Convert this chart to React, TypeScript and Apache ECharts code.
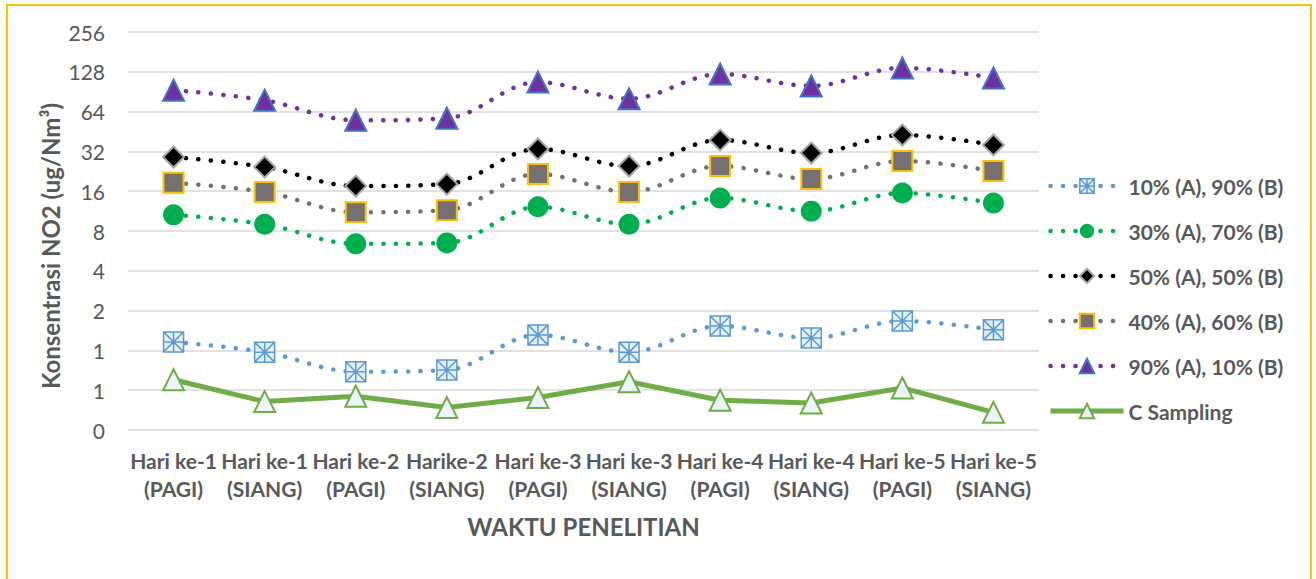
import React, { useEffect, useRef } from "react";
import * as echarts from "echarts";

const categories = [
  "Hari ke-1\n(PAGI)",
  "Hari ke-1\n(SIANG)",
  "Hari ke-2\n(PAGI)",
  "Harike-2\n(SIANG)",
  "Hari ke-3\n(PAGI)",
  "Hari ke-3\n(SIANG)",
  "Hari ke-4\n(PAGI)",
  "Hari ke-4\n(SIANG)",
  "Hari ke-5\n(PAGI)",
  "Hari ke-5\n(SIANG)",
];

const s10 = [1.16, 0.97, 0.69, 0.71, 1.31, 0.97, 1.53, 1.24, 1.67, 1.43];
const s30 = [10.6, 9.0, 6.4, 6.5, 12.2, 9.0, 14.2, 11.3, 15.5, 13.0];
const s50 = [29.0, 24.4, 17.5, 18.1, 33.4, 24.8, 39.0, 31.1, 42.6, 35.8];
const s40 = [18.5, 15.8, 11.1, 11.5, 21.6, 15.8, 24.8, 19.8, 27.1, 22.7];
const s90 = [93, 78, 55, 57, 107, 80, 123, 100, 137, 115];
const sC = [0.6, 0.41, 0.45, 0.37, 0.44, 0.58, 0.42, 0.4, 0.52, 0.34];

const yMin = 0.25;
const yMax = 256;

const FONT = "Lato, 'Noto Sans', sans-serif";
const TXT = "#595959";

export default function App() {
  const ref = useRef<HTMLDivElement>(null);
  useEffect(() => {
    document.body.style.margin = "0";
    const chart = echarts.init(ref.current!, null, { renderer: "svg" });
    const dotted = (color: string) => ({
      color,
      width: 4.5,
      type: [0.1, 12.4],
      cap: "round",
    });
    const smooth = 0.35;
    const option: any = {
      animation: false,
      backgroundColor: "#ffffff",
      textStyle: { fontFamily: FONT },
      grid: { left: 128, right: 277, top: 32, bottom: 149, containLabel: false },
      legend: {
        orient: "vertical",
        left: 1043,
        top: 170,
        itemWidth: 73,
        itemHeight: 18,
        itemGap: 23,
        lineStyle: { width: "inherit", type: "inherit", cap: "inherit" },
        itemStyle: { borderWidth: "inherit" },
        textStyle: {
          fontFamily: FONT,
          fontSize: 21,
          fontWeight: "bold",
          color: TXT,
          lineHeight: 22,
        },
      },
      xAxis: {
        type: "category",
        data: categories,
        boundaryGap: true,
        axisLine: { show: false },
        axisTick: { show: false },
        axisLabel: {
          interval: 0,
          fontFamily: FONT,
          fontSize: 21,
          fontWeight: "bold",
          color: TXT,
          lineHeight: 28,
          margin: 16,
        },
        name: "WAKTU PENELITIAN",
        nameLocation: "middle",
        nameGap: 84,
        nameTextStyle: {
          fontFamily: FONT,
          fontSize: 24,
          fontWeight: "bold",
          color: TXT,
        },
      },
      yAxis: {
        type: "log",
        logBase: 2,
        min: yMin,
        max: yMax,
        interval: 1,
        axisLine: { show: false },
        axisTick: { show: false },
        splitLine: { lineStyle: { color: "#D9D9D9", width: 1.5 } },
        axisLabel: {
          fontFamily: FONT,
          fontSize: 21,
          color: TXT,
          margin: 23,
          formatter: (v: number) => String(Math.round(v)),
        },
      },
      graphic: [
        {
          type: "rect",
          shape: { x: 7, y: 5, width: 1304, height: 620 },
          style: { fill: "none", stroke: "#FFC000", lineWidth: 2 },
          silent: true,
        },
        {
          type: "text",
          x: 50,
          y: 246,
          rotation: Math.PI / 2,
          style: {
            text: "Konsentrasi NO2 (ug/Nm³)",
            fontFamily: FONT,
            fontSize: 24,
            fontWeight: "bold",
            fill: TXT,
            align: "center",
            verticalAlign: "middle",
          },
        },
      ],
      series: [
        {
          name: "10% (A), 90% (B)",
          type: "line",
          data: s10,
          smooth,
          symbol: "path://M0,0H20V20H0Z M0,0L20,20 M20,0L0,20 M10,0V20 M0,10H20",
          symbolSize: 20,
          lineStyle: dotted("#5B9BD5"),
          itemStyle: { color: "#E6F0FA", borderColor: "#5B9BD5", borderWidth: 1.5 },
        },
        {
          name: "30% (A), 70% (B)",
          type: "line",
          data: s30,
          smooth,
          symbol: "circle",
          symbolSize: 21,
          lineStyle: dotted("#00B050"),
          itemStyle: { color: "#00B050" },
        },
        {
          name: "50% (A), 50% (B)",
          type: "line",
          data: s50,
          smooth,
          symbol: "diamond",
          symbolSize: 21,
          lineStyle: dotted("#000000"),
          itemStyle: { color: "#000000", borderColor: "#A6A6A6", borderWidth: 2 },
        },
        {
          name: "40% (A), 60% (B)",
          type: "line",
          data: s40,
          smooth,
          symbol: "rect",
          symbolSize: 20,
          lineStyle: dotted("#767171"),
          itemStyle: { color: "#767171", borderColor: "#FFC000", borderWidth: 2 },
        },
        {
          name: "90% (A), 10% (B)",
          type: "line",
          data: s90,
          smooth,
          symbol: "triangle",
          symbolSize: 21,
          lineStyle: dotted("#7030A0"),
          itemStyle: { color: "#7030A0", borderColor: "#4472C4", borderWidth: 2 },
        },
        {
          name: "C Sampling",
          type: "line",
          data: sC,
          smooth: false,
          symbol: "triangle",
          symbolSize: 21,
          lineStyle: { color: "#70AD47", width: 5 },
          itemStyle: { color: "#EEF4FB", borderColor: "#70AD47", borderWidth: 2 },
        },
      ],
    };
    chart.setOption(option);
    return () => chart.dispose();
  }, []);
  return <div ref={ref} style={{ width: 1316, height: 579 }} />;
}
